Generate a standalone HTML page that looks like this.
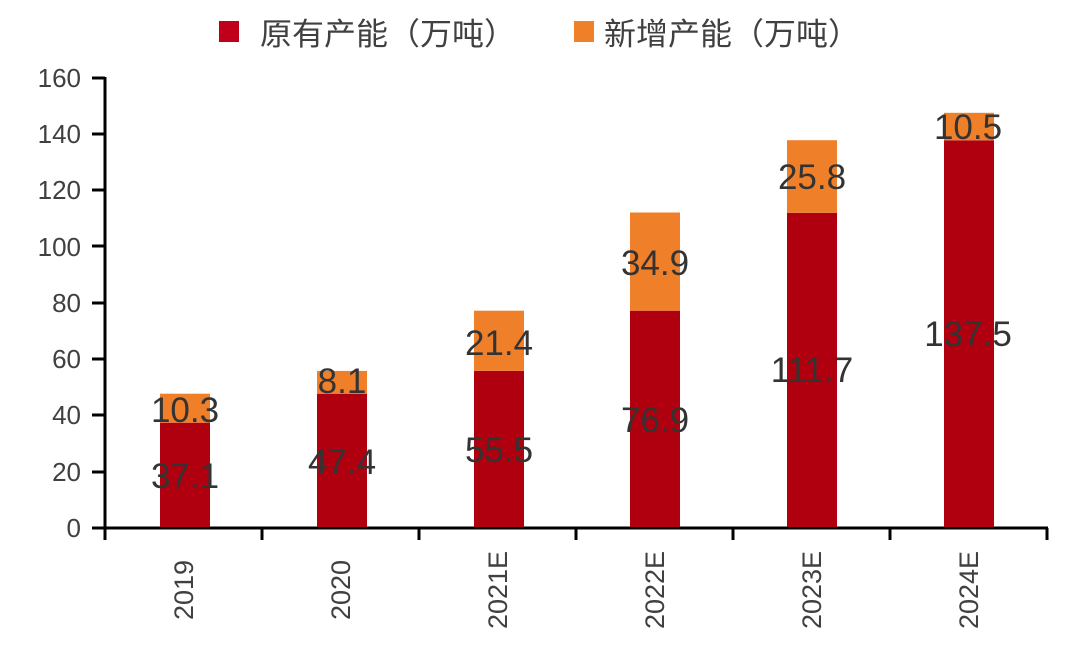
<!DOCTYPE html><html><head><meta charset="utf-8"><style>body{margin:0;background:#fff}</style></head><body>
<svg width="1090" height="654" xmlns="http://www.w3.org/2000/svg" font-family="Liberation Sans, Noto Sans CJK SC, sans-serif">
<rect width="1090" height="654" fill="#fff"/>
<rect x="219" y="21" width="20" height="21" fill="#c0001a"/>
<text x="260" y="45" font-size="31" fill="#404040" textLength="256" lengthAdjust="spacingAndGlyphs">原有产能（万吨）</text>
<rect x="574" y="21" width="20" height="21" fill="#f07f2a"/>
<text x="604" y="45" font-size="31" fill="#404040" textLength="256" lengthAdjust="spacingAndGlyphs">新增产能（万吨）</text>
<g font-size="26" fill="#404040" text-anchor="end">
<text x="81" y="537">0</text><text x="81" y="481">20</text><text x="81" y="424">40</text><text x="81" y="368">60</text><text x="81" y="312">80</text><text x="81" y="256">100</text><text x="81" y="199">120</text><text x="81" y="143">140</text><text x="81" y="87">160</text>
</g>
<g stroke="#000" stroke-width="3">
<line x1="105" y1="77" x2="105" y2="528"/>
<line x1="104" y1="528" x2="1048" y2="528"/>
<line x1="92" y1="528" x2="105" y2="528"/><line x1="92" y1="472" x2="105" y2="472"/><line x1="92" y1="415" x2="105" y2="415"/><line x1="92" y1="359" x2="105" y2="359"/><line x1="92" y1="303" x2="105" y2="303"/><line x1="92" y1="246" x2="105" y2="246"/><line x1="92" y1="190" x2="105" y2="190"/><line x1="92" y1="134" x2="105" y2="134"/><line x1="92" y1="78" x2="105" y2="78"/>
<line x1="105" y1="528" x2="105" y2="540"/><line x1="262" y1="528" x2="262" y2="540"/><line x1="419" y1="528" x2="419" y2="540"/><line x1="576" y1="528" x2="576" y2="540"/><line x1="733" y1="528" x2="733" y2="540"/><line x1="890" y1="528" x2="890" y2="540"/><line x1="1047" y1="528" x2="1047" y2="540"/>
</g>
<g font-size="27" fill="#404040" text-anchor="middle">
<text transform="translate(193,590) rotate(-90)">2019</text>
<text transform="translate(350,590) rotate(-90)">2020</text>
<text transform="translate(507,590) rotate(-90)">2021E</text>
<text transform="translate(664,590) rotate(-90)">2022E</text>
<text transform="translate(821,590) rotate(-90)">2023E</text>
<text transform="translate(978,590) rotate(-90)">2024E</text>
</g>
<g>
<rect x="160" y="422.7" width="50" height="104.3" fill="#b0000f"/><rect x="160" y="393.7" width="50" height="29" fill="#f07f2a"/>
<rect x="317" y="393.7" width="50" height="133.3" fill="#b0000f"/><rect x="317" y="370.9" width="50" height="22.8" fill="#f07f2a"/>
<rect x="474" y="370.9" width="50" height="156.1" fill="#b0000f"/><rect x="474" y="310.7" width="50" height="60.2" fill="#f07f2a"/>
<rect x="630" y="310.7" width="50" height="216.3" fill="#b0000f"/><rect x="630" y="212.5" width="50" height="98.2" fill="#f07f2a"/>
<rect x="787" y="212.8" width="50" height="314.2" fill="#b0000f"/><rect x="787" y="140.2" width="50" height="72.6" fill="#f07f2a"/>
<rect x="944" y="140.3" width="50" height="386.7" fill="#b0000f"/><rect x="944" y="112.8" width="50" height="27.5" fill="#f07f2a"/>
</g>
<g font-size="35" fill="#333" text-anchor="middle">
<text x="185" y="488">37.1</text><text x="185" y="422">10.3</text>
<text x="342" y="474">47.4</text><text x="342" y="393">8.1</text>
<text x="499" y="462">55.5</text><text x="499" y="355">21.4</text>
<text x="655" y="432">76.9</text><text x="655" y="275">34.9</text>
<text x="812" y="382">111.7</text><text x="812" y="189">25.8</text>
<text x="968" y="346">137.5</text><text x="968" y="139">10.5</text>
</g>
</svg></body></html>
